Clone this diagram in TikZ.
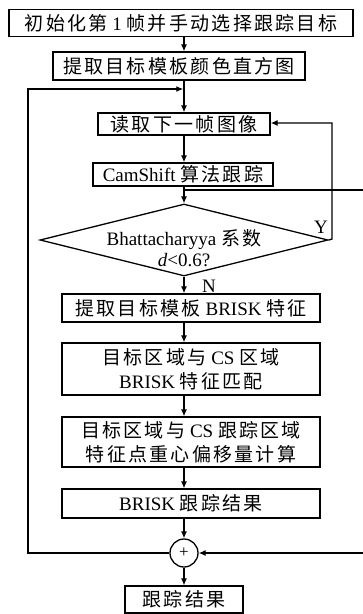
\documentclass[tikz,border=0pt]{standalone}
\usepackage{fontspec}
\newfontfamily\cjk[LetterSpace=12]{Noto Sans CJK SC}
\newfontfamily\latf{Liberation Serif}
\usetikzlibrary{arrows.meta,shapes.geometric}
\newcommand\lat[1]{{\latf\fontsize{19}{22}\selectfont #1}}
\begin{document}
\begin{tikzpicture}[x=1pt,y=-1pt,
  box/.style={draw,line width=1.3pt,inner sep=0pt,font=\cjk\fontsize{19}{24}\selectfont,align=center},
  arr/.style={line width=1.3pt,-{Latex[length=7pt,width=6pt]}},
  ln/.style={line width=1.3pt},
  lbl/.style={font=\latf\fontsize{19}{22}\selectfont,inner sep=0pt}]
\path[use as bounding box] (0,0) rectangle (363,614);
\clip (0,0) rectangle (363,614);
\coordinate (ax) at (184,0);
\node[box,minimum width=344pt,minimum height=27pt] (b1) at (181,23) {初始化第\lat{ 1 }帧并手动选择跟踪目标};
\node[box,minimum width=252pt,minimum height=28pt] (b2) at (179,66) {提取目标模板颜色直方图};
\node[box,minimum width=172pt,minimum height=22pt] (b3) at (184,124) {读取下一帧图像};
\node[box,minimum width=180pt,minimum height=23pt] (b4) at (183,174.5) {\lat{CamShift }算法跟踪};
\node[draw,diamond,line width=1.3pt,inner sep=0pt,minimum width=288pt,minimum height=72pt] (dia) at (184,240) {};
\node[align=center,font=\cjk\fontsize{19}{21}\selectfont] (dt) at (184,248) {\lat{Bhattacharyya }系数\\\lat{\textit{d}<0.6?}};
\node[box,minimum width=258pt,minimum height=28pt] (b5) at (191,308) {提取目标模板\lat{ BRISK }特征};
\node[box,minimum width=258pt,minimum height=52pt] (b6) at (191,369) {目标区域与\lat{ CS }区域\\\lat{BRISK }特征匹配};
\node[box,minimum width=258pt,minimum height=50pt] (b7) at (191,442) {目标区域与\lat{ CS }跟踪区域\\特征点重心偏移量计算};
\node[box,minimum width=258pt,minimum height=29pt] (b8) at (191,503.5) {\lat{BRISK }跟踪结果};
\node[draw,circle,line width=1.3pt,minimum size=28pt,inner sep=0pt,font=\latf\fontsize{17}{20}\selectfont] (cir) at (184,553) {+};
\node[box,minimum width=118pt,minimum height=27pt] (b9) at (184,599.5) {跟踪结果};
\node[lbl] (Y) at (321,227) {Y};
\node[lbl] (N) at (209,286) {N};
% coordinates of bends
\coordinate (lj) at (183.3,89);
\coordinate (lc1) at (28,553);
\coordinate (lc2) at (28,89);
\coordinate (rc1) at (332,239);
\coordinate (rc2) at (332,123);
\coordinate (j) at (184,190);
\coordinate (re1) at (366,190);
\coordinate (re2) at (366,553);
% main flow
\draw[arr] (b1.south -| ax) -- (b2.north -| ax);
\draw[arr] (b2.south -| ax) -- (b3.north -| ax);
\draw[arr] (b3.south -| ax) -- (b4.north -| ax);
\draw[arr] (b4.south -| ax) -- (dia.north);
\draw[arr] (dia.south) -- (b5.north -| ax);
\draw[arr] (b5.south -| ax) -- (b6.north -| ax);
\draw[arr] (b6.south -| ax) -- (b7.north -| ax);
\draw[arr] (b7.south -| ax) -- (b8.north -| ax);
\draw[arr] (b8.south -| ax) -- (cir.north);
\draw[arr] (cir.south) -- (b9.north);
% loops
\draw[arr] (cir.west) -- (lc1) -- (lc2) -- (lj);
\draw[arr] (dia.east) -- (rc1) -- (rc2) -- (b3.east |- rc2);
\draw[ln] (j) -- (re1) -- (re2);
\draw[arr] (re2) -- (cir.east);
\end{tikzpicture}
\end{document}
